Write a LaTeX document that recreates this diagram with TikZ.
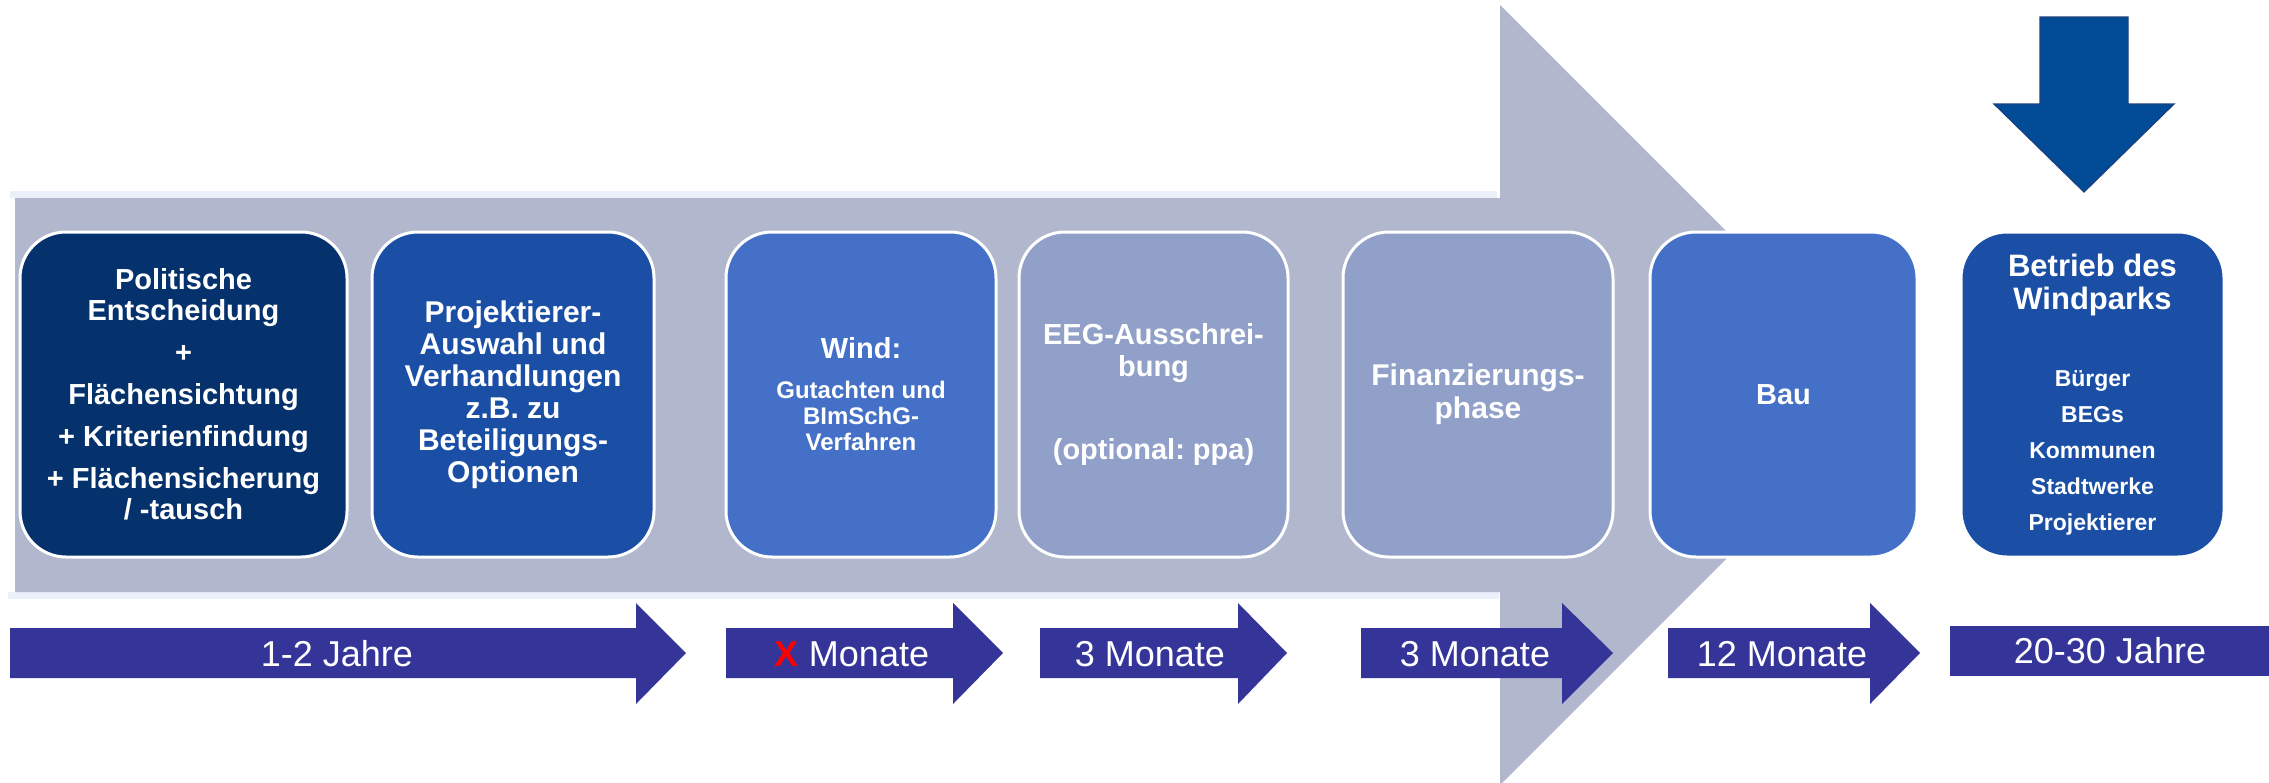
\documentclass[tikz,border=0pt]{standalone}
\usepackage{fontspec}
\setmainfont{Liberation Sans}
\frenchspacing
\usetikzlibrary{calc}

\definecolor{shaftgray}{HTML}{B1B7CD}
\definecolor{glint}{HTML}{EBF0FB}
\definecolor{navy}{HTML}{05316C}
\definecolor{royal}{HTML}{1A4FA5}
\definecolor{cornflower}{HTML}{4471C7}
\definecolor{slate}{HTML}{91A0C8}
\definecolor{downblue}{HTML}{014B97}
\definecolor{downedge}{HTML}{1B3F7E}
\definecolor{timeblue}{HTML}{353599}
\definecolor{alertred}{HTML}{FF0000}

\tikzset{
  phase/.style={draw=white, line width=3pt, rounded corners=46pt,
    text=white, align=center, inner sep=0pt, minimum height=325pt,
    font=\bfseries\fontsize{29}{31}\selectfont},
  timelabel/.style={text=white, inner sep=0pt,
    font=\fontsize{36}{40}\selectfont},
}

% smaller lines inside a phase box
\newcommand{\detailA}{\fontsize{24}{26}\selectfont}
\newcommand{\detailB}{\fontsize{23}{36}\selectfont}

% block arrow of the time line: shaft start, head start, tip
\newcommand{\timearrow}[3]{%
  \fill[timeblue] (#1,628) -- (#2,628) -- (#2,603) -- (#3,653)
    -- (#2,704) -- (#2,678) -- (#1,678) -- cycle;}

\begin{document}
\begin{tikzpicture}[x=1pt,y=-1pt]
\useasboundingbox (0,0) rectangle (2269,782);
\clip (0,0) rectangle (2269,782);

% large process arrow in the background
\fill[glint] (10,191) rectangle (1497,198);
\fill[glint] (8,592) rectangle (1499,599);
\fill[shaftgray] (15,198) -- (1500,198) -- (1500,5) -- (1890,395)
  -- (1500,785) -- (1500,592) -- (15,592) -- cycle;

% phases
\node[phase, fill=navy, minimum width=327pt] (b1) at (183.5,394.5)
  {Politische\\Entscheidung\\[11pt]+\\[11pt]Flächensichtung\\[11pt]+ Kriterienfindung\\[11pt]+ Flächensicherung\\/ -tausch};
\node[phase, fill=royal, minimum width=282pt,
  font=\bfseries\fontsize{30}{32}\selectfont] (b2) at (513,394.5)
  {Projektierer-\\Auswahl und\\Verhandlungen\\z.B. zu\\Beteiligungs-\\Optionen};
\node[phase, fill=cornflower, minimum width=270pt] (b3) at (861,394.5)
  {Wind:\\[9pt]\detailA Gutachten und\\[-5pt]\detailA BImSchG-\\[-5pt]\detailA Verfahren};
\node[phase, fill=slate, minimum width=269pt,
  font=\bfseries\fontsize{29}{32}\selectfont] (b4) at (1153.5,394.5)
  {EEG-Ausschrei-\\bung\\[51pt](optional: ppa)};
\node[phase, fill=slate, minimum width=270pt,
  font=\bfseries\fontsize{30}{33}\selectfont] (b5) at (1478,394.5)
  {Finanzierungs-\\phase};
\node[phase, fill=cornflower, minimum width=267pt] (b6) at (1783.5,394.5)
  {Bau};
\node[phase, fill=royal, minimum width=263pt,
  font=\bfseries\fontsize{31}{33}\selectfont] (b7) at (2092.5,394.5)
  {Betrieb des\\Windparks\\[44pt]\detailB Bürger\\[3pt]\detailB BEGs\\[3pt]\detailB Kommunen\\[3pt]\detailB Stadtwerke\\[3pt]\detailB Projektierer};

% arrow pointing down onto the operation phase
\filldraw[fill=downblue, draw=downedge, line width=1.2pt]
  (2040,17) -- (2128,17) -- (2128,104) -- (2174,104) -- (2084,192)
  -- (1994,104) -- (2040,104) -- cycle;

% time line
\timearrow{10}{636}{686}
\timearrow{726}{953}{1003}
\timearrow{1040}{1238}{1287}
\timearrow{1361}{1562}{1613}
\timearrow{1668}{1870}{1920}
\fill[timeblue] (1950,626) rectangle (2269,676);

\node[timelabel] (t1) at (337,654) {1-2 Jahre};
\node[timelabel] (t2) at (852,654) {{\color{alertred}\bfseries X} Monate};
\node[timelabel] (t3) at (1150,654) {3 Monate};
\node[timelabel] (t4) at (1475,654) {3 Monate};
\node[timelabel] (t5) at (1782,654) {12 Monate};
\node[timelabel] (t6) at (2110,651) {20-30 Jahre};
\end{tikzpicture}
\end{document}
